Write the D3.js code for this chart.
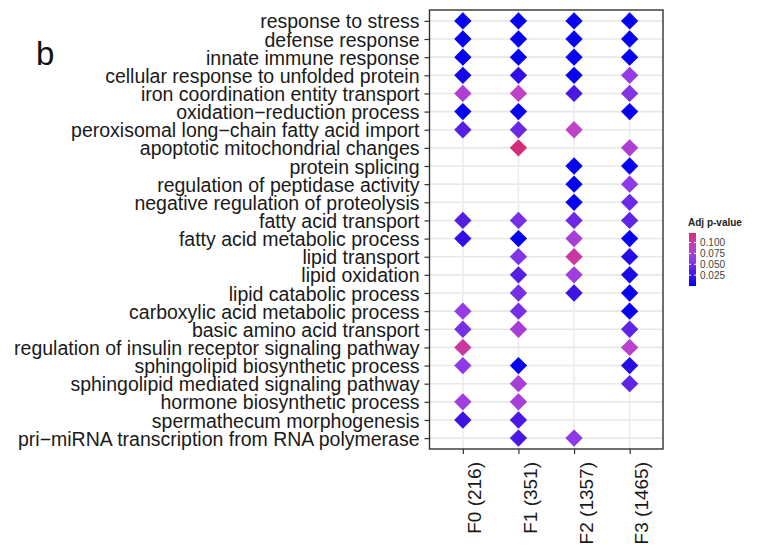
<!DOCTYPE html>
<html lang="en">
<meta charset="UTF-8">
<title>GO term enrichment</title>
<script src="https://d3js.org/d3.v7.min.js"></script>
<style>
body { margin: 0; background: #fff; }
text { font-family: "Liberation Sans", Arial, sans-serif; }
</style>
<body>
<div id="my_dataviz"></div>
<script>
// GO terms, top to bottom
var terms = [
  "response to stress",
  "defense response",
  "innate immune response",
  "cellular response to unfolded protein",
  "iron coordination entity transport",
  "oxidation\u2212reduction process",
  "peroxisomal long\u2212chain fatty acid import",
  "apoptotic mitochondrial changes",
  "protein splicing",
  "regulation of peptidase activity",
  "negative regulation of proteolysis",
  "fatty acid transport",
  "fatty acid metabolic process",
  "lipid transport",
  "lipid oxidation",
  "lipid catabolic process",
  "carboxylic acid metabolic process",
  "basic amino acid transport",
  "regulation of insulin receptor signaling pathway",
  "sphingolipid biosynthetic process",
  "sphingolipid mediated signaling pathway",
  "hormone biosynthetic process",
  "spermathecum morphogenesis",
  "pri\u2212miRNA transcription from RNA polymerase"
];

var groups = ["F0 (216)", "F1 (351)", "F2 (1357)", "F3 (1465)"];

// adjusted p-values per group (null = not enriched), same order as terms
var pF0 = [0.003, 0.003, 0.003, 0.008, 0.08, 0.003, 0.035, null, null, null, null, 0.035,
           0.02, null, null, null, 0.065, 0.05, 0.105, 0.06, null, 0.07, 0.025, null];
var pF1 = [0.003, 0.003, 0.003, 0.02, 0.09, 0.003, 0.045, 0.12, null, null, null, 0.05,
           0.003, 0.055, 0.035, 0.05, 0.05, 0.075, null, 0.003, 0.075, 0.075, 0.03, 0.03];
var pF2 = [0.003, 0.003, 0.003, 0.003, 0.03, null, 0.09, null, 0.003, 0.003, 0.003, 0.045,
           0.075, 0.105, 0.07, 0.025, null, null, null, null, null, null, null, 0.06];
var pF3 = [0.003, 0.003, 0.003, 0.065, 0.055, 0.003, null, 0.08, 0.003, 0.06, 0.045, 0.04,
           0.003, 0.015, 0.01, 0.005, 0.003, 0.04, 0.085, 0.015, 0.04, null, null, null];

var legendTicks = [0.025, 0.05, 0.075, 0.1];

var columns = [pF0, pF1, pF2, pF3];
var data = [];
columns.forEach(function(col, j) {
  col.forEach(function(p, i) {
    if (p !== null) data.push({ term: terms[i], group: groups[j], p: p });
  });
});

var W = 768, H = 546;
var panel = { left: 429.5, right: 663, top: 10, bottom: 449 };

var svg = d3.select("#my_dataviz").append("svg")
  .attr("width", W).attr("height", H);

var x = d3.scalePoint().domain(groups)
  .range([panel.left, panel.right]).padding(0.6);
var y = d3.scalePoint().domain(terms)
  .range([panel.top, panel.bottom]).padding(0.6);

var pMax = 0.122;
var color = d3.scaleLinear()
  .domain([0, 0.03, 0.06, 0.09, pMax])
  .range(["#0000f0", "#4a18e2", "#8e3ae8", "#c042c8", "#d42c74"]);

// grid
svg.append("g").selectAll("line.h").data(terms).join("line")
  .attr("x1", panel.left).attr("x2", panel.right)
  .attr("y1", function(d) { return y(d); }).attr("y2", function(d) { return y(d); })
  .attr("stroke", "#e8e8e8").attr("stroke-width", 1.6);
svg.append("g").selectAll("line.v").data(groups).join("line")
  .attr("y1", panel.top).attr("y2", panel.bottom)
  .attr("x1", function(d) { return x(d); }).attr("x2", function(d) { return x(d); })
  .attr("stroke", "#ececec").attr("stroke-width", 1.6);

// diamonds
var diamond = d3.symbol().type(d3.symbolSquare).size(150);
svg.append("g").selectAll("path").data(data).join("path")
  .attr("d", diamond)
  .attr("transform", function(d) { return "translate(" + x(d.group) + "," + y(d.term) + ") rotate(45)"; })
  .attr("fill", function(d) { return color(d.p); });

// panel border
svg.append("rect")
  .attr("x", panel.left).attr("y", panel.top)
  .attr("width", panel.right - panel.left).attr("height", panel.bottom - panel.top)
  .attr("fill", "none").attr("stroke", "#333").attr("stroke-width", 1.4);

// y axis
var yAxis = svg.append("g")
  .attr("transform", "translate(" + panel.left + ",0)")
  .call(d3.axisLeft(y).tickSize(5).tickPadding(5));
yAxis.select(".domain").remove();
yAxis.selectAll(".tick line").attr("stroke", "#333").attr("stroke-width", 1.2);
yAxis.selectAll(".tick text")
  .attr("fill", "#1a1a1a").style("font-size", "19.5px").attr("dy", "0.36em");

// x axis
var xAxis = svg.append("g")
  .attr("transform", "translate(0," + panel.bottom + ")")
  .call(d3.axisBottom(x).tickSize(5));
xAxis.select(".domain").remove();
xAxis.selectAll(".tick line").attr("stroke", "#333").attr("stroke-width", 1.2);
xAxis.selectAll(".tick text")
  .attr("fill", "#1a1a1a").style("font-size", "19px")
  .attr("text-anchor", "end")
  .attr("transform", "translate(18,13) rotate(-90)")
  .attr("x", 0).attr("y", 0).attr("dy", 0);

// panel tag
svg.append("text").attr("x", 36).attr("y", 65)
  .style("font-size", "33px").attr("fill", "#111").text("b");

// legend
var ly = d3.scaleLinear().domain([0, pMax]).range([286, 233]);
svg.append("text").attr("x", 688).attr("y", 226)
  .style("font-size", "10px").style("font-weight", "bold").attr("fill", "#222")
  .text("Adj p-value");
var grad = svg.append("defs").append("linearGradient")
  .attr("id", "pgrad").attr("x1", 0).attr("x2", 0).attr("y1", 1).attr("y2", 0);
d3.range(0, 1.01, 0.1).forEach(function(t) {
  grad.append("stop").attr("offset", t).attr("stop-color", color(t * pMax));
});
svg.append("rect").attr("x", 689).attr("y", ly(pMax))
  .attr("width", 7).attr("height", ly(0) - ly(pMax))
  .attr("fill", "url(#pgrad)");
var lg = svg.append("g").selectAll("g").data(legendTicks).join("g");
lg.append("line")
  .attr("x1", 689).attr("x2", 691).attr("y1", function(d) { return ly(d); }).attr("y2", function(d) { return ly(d); })
  .attr("stroke", "#fff");
lg.append("line")
  .attr("x1", 694).attr("x2", 696).attr("y1", function(d) { return ly(d); }).attr("y2", function(d) { return ly(d); })
  .attr("stroke", "#fff");
lg.append("text")
  .attr("x", 700).attr("y", function(d) { return ly(d); }).attr("dy", "0.35em")
  .style("font-size", "10px").attr("fill", "#444")
  .text(function(d) { return d3.format(".3f")(d); });
</script>
</body>
</html>
